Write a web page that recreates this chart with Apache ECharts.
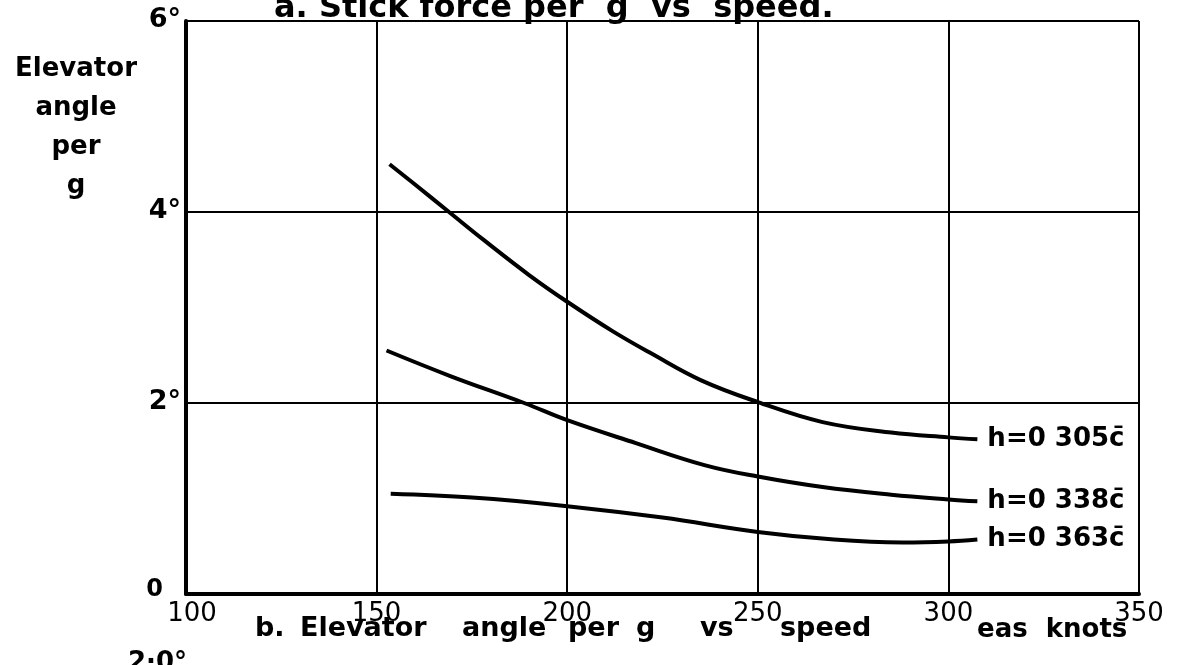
<!DOCTYPE html>
<html lang="en">
<head>
<meta charset="UTF-8">
<script src="https://cdn.jsdelivr.net/npm/echarts@6/dist/echarts.min.js"></script>
<style>
	html, body { margin: 0; padding: 0; background: #fff; }
	#main { width: 1183px; height: 665px; }
</style>
</head>
<body>
	<div id="main"></div>
	<script type="text/javascript">
		// speed (eas knots) and elevator angle per g (degrees)
		var speed305 = [153.4, 160, 169, 178, 190, 200, 212, 222, 235, 250, 267, 285, 300, 307.6];
		var angle305 = [4.50, 4.29, 4.0, 3.71, 3.34, 3.06, 2.75, 2.52, 2.24, 2.01, 1.80, 1.69, 1.64, 1.62];

		var speed338 = [152.6, 169.5, 188.7, 200, 218, 236, 250, 267, 285, 300, 307.6];
		var angle338 = [2.55, 2.28, 2.0, 1.82, 1.58, 1.35, 1.23, 1.12, 1.04, 0.99, 0.97];

		var speed363 = [153.7, 175, 200, 225, 250, 270, 288, 300, 307.6];
		var angle363 = [1.05, 1.01, 0.92, 0.80, 0.65, 0.57, 0.54, 0.55, 0.57];

		var curveNames = ['h=0 305c\u0304', 'h=0 338c\u0304', 'h=0 363c\u0304'];
		var xTicks = [100, 150, 200, 250, 300, 350];
		var yTicks = [0, 2, 4, 6];

		function pairs(xs, ys) {
			var out = [];
			for (var i = 0; i < xs.length; i++) {
				out.push([xs[i], ys[i]]);
			}
			return out;
		}

		var font = 'DejaVu Sans';
		var mychar = echarts.init(document.getElementById('main'));

		function curve(name, data) {
			return {
				name: name,
				type: 'line',
				data: data,
				smooth: 0.4,
				showSymbol: false,
				symbol: 'none',
				lineStyle: { color: '#000', width: 4 },
				endLabel: {
					show: true,
					formatter: '{a}',
					color: '#000',
					fontFamily: font,
					fontWeight: 'bold',
					fontSize: 26,
					distance: 10
				},
				silent: true
			};
		}

		function txt(left, top, text, size) {
			return {
				type: 'text', left: left, top: top,
				style: { text: text, font: 'bold ' + size + 'px "DejaVu Sans"', fill: '#000' }
			};
		}

		var option = {
			backgroundColor: '#fff',
			animation: false,
			grid: { left: 186, right: 44, top: 21, bottom: 71 },
			xAxis: {
				type: 'value',
				min: xTicks[0],
				max: xTicks[xTicks.length - 1],
				interval: 50,
				axisLine: { lineStyle: { color: '#000', width: 4 } },
				axisTick: { show: false },
				splitLine: { lineStyle: { color: '#000', width: 2 } },
				axisLabel: {
					color: '#000',
					fontFamily: font,
					fontSize: 26,
					margin: 7,
					formatter: function (v) {
						return v === 100 ? '{first|' + v + '}' : v;
					},
					rich: { first: { fontFamily: font, fontSize: 26, padding: [0, 0, 0, 12] } }
				}
			},
			yAxis: {
				type: 'value',
				min: yTicks[0],
				max: yTicks[yTicks.length - 1],
				interval: 2,
				axisLine: { lineStyle: { color: '#000', width: 4 } },
				axisTick: { show: false },
				splitLine: { lineStyle: { color: '#000', width: 2 } },
				axisLabel: {
					color: '#000',
					fontFamily: font,
					fontWeight: 'bold',
					fontSize: 27,
					margin: 5,
					formatter: function (v) {
						return v === 0 ? '{zero|0}' : '{deg|' + v + '°}';
					},
					rich: {
						deg: { fontFamily: font, fontWeight: 'bold', fontSize: 27, padding: [0, 0, 3, 0] },
						zero: { fontFamily: font, fontSize: 24, padding: [0, 18, 8, 0] }
					}
				}
			},
			graphic: [
				{
					type: 'text', x: 76, y: 50,
					style: {
						text: 'Elevator\nangle\nper\ng',
						align: 'center',
						font: 'bold 26px "DejaVu Sans"', lineHeight: 39, fill: '#000'
					}
				},
				txt(274, -7, 'a. Stick force per  g  vs  speed.', 32),
				txt(255, 615, 'b.', 27),
				txt(300, 615, 'Elevator', 27),
				txt(462, 615, 'angle', 27),
				txt(568, 615, 'per', 27),
				txt(636, 615, 'g', 27),
				txt(700, 615, 'vs', 27),
				txt(780, 615, 'speed', 27),
				txt(977, 617, 'eas  knots', 26),
				txt(128, 650, '2·0°', 26)
			],
			series: [
				curve(curveNames[0], pairs(speed305, angle305)),
				curve(curveNames[1], pairs(speed338, angle338)),
				curve(curveNames[2], pairs(speed363, angle363))
			]
		};
		mychar.setOption(option);
	</script>
</body>
</html>
